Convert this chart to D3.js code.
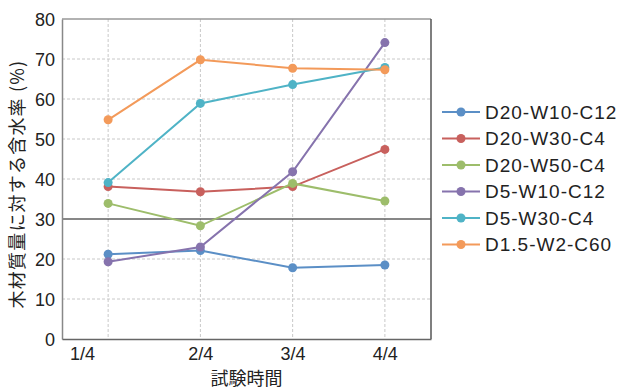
<!DOCTYPE html>
<html>
<head>
<meta charset="utf-8">
<script src="https://cdn.jsdelivr.net/npm/d3@7"></script>
<style>
  body { margin: 0; background: #fff; }
  text { font-family: "Liberation Sans", Arial, "Noto Sans CJK JP", sans-serif; fill: #222; }
</style>
</head>
<body>
<svg id="chart" width="622" height="389"></svg>
<script>
// data
const periods = ["1/4", "2/4", "3/4", "4/4"];
const seriesNames = ["D20-W10-C12", "D20-W30-C4", "D20-W50-C4", "D5-W10-C12", "D5-W30-C4", "D1.5-W2-C60"];
const colors = ["#5b8fc6", "#c8605d", "#9dbd6b", "#8673ad", "#4fb3c6", "#f39a5a"];
const d20w10c12 = [21.2, 22.1, 17.8, 18.5];
const d20w30c4 = [38.1, 36.8, 38.1, 47.4];
const d20w50c4 = [33.9, 28.3, 38.9, 34.5];
const d5w10c12 = [19.3, 23.0, 41.8, 74.1];
const d5w30c4 = [39.1, 58.9, 63.6, 67.9];
const d15w2c60 = [54.8, 69.8, 67.7, 67.3];
const yTicks = [0, 10, 20, 30, 40, 50, 60, 70, 80];

const allValues = [d20w10c12, d20w30c4, d20w50c4, d5w10c12, d5w30c4, d15w2c60];

const svg = d3.select("#chart");
const pLeft = 62, pRight = 431, pTop = 19, pBottom = 339;

const x = d3.scaleLinear().domain([0.5, periods.length + 0.5]).range([pLeft, pRight]);
const y = d3.scaleLinear().domain([0, 80]).range([pBottom, pTop]);

// grid
svg.append("g").selectAll("line").data(yTicks.filter(t => t > 0 && t < 80 && t !== 30))
    .enter().append("line")
    .attr("x1", pLeft).attr("x2", pRight)
    .attr("y1", d => y(d)).attr("y2", d => y(d))
    .attr("stroke", "#c8c8c8").attr("stroke-dasharray", "3,2").attr("stroke-width", 1);
svg.append("g").selectAll("line").data(periods)
    .enter().append("line")
    .attr("x1", (d, i) => x(i + 1)).attr("x2", (d, i) => x(i + 1))
    .attr("y1", pTop).attr("y2", pBottom)
    .attr("stroke", "#c8c8c8").attr("stroke-dasharray", "3,2").attr("stroke-width", 1);

// reference line at 30
svg.append("line")
    .attr("x1", pLeft).attr("x2", pRight)
    .attr("y1", y(30)).attr("y2", y(30))
    .attr("stroke", "#111").attr("stroke-width", 1.2);

// frame
svg.append("line").attr("x1", pLeft).attr("x2", pRight).attr("y1", pTop).attr("y2", pTop)
    .attr("stroke", "#999").attr("stroke-width", 1.5);
svg.append("line").attr("x1", pRight).attr("x2", pRight).attr("y1", pTop).attr("y2", pBottom)
    .attr("stroke", "#555").attr("stroke-width", 1.5);

// y axis
const yAxis = svg.append("g")
    .attr("transform", "translate(" + pLeft + ",0)")
    .call(d3.axisLeft(y).tickValues(yTicks).tickSize(0).tickPadding(7));
yAxis.select(".domain").attr("stroke", "#888").attr("stroke-width", 1.5);
yAxis.selectAll("text").style("font-size", "18px").attr("fill", "#222").attr("dy", "0.36em");

// x axis
const xAxis = svg.append("g")
    .attr("transform", "translate(0," + pBottom + ")")
    .call(d3.axisBottom(x).tickValues(d3.range(1, periods.length + 1))
        .tickFormat((d, i) => periods[i]).tickSize(0).tickPadding(8));
xAxis.select(".domain").attr("stroke", "#666").attr("stroke-width", 1.5);
xAxis.selectAll("text").style("font-size", "18px").attr("fill", "#222")
    .attr("dx", (d, i) => i === 0 ? -26 : 0);

// titles
svg.append("text")
    .attr("transform", "translate(24," + ((pTop + pBottom) / 2 + 5) + ") rotate(-90)")
    .attr("text-anchor", "middle")
    .style("font-size", "18px")
    .style("letter-spacing", "1.2px")
    .style("font-family", "'Noto Sans CJK JP', sans-serif")
    .text("木材質量に対する含水率 (%)");
svg.append("text")
    .attr("x", (pLeft + pRight) / 2).attr("y", 385)
    .attr("text-anchor", "middle")
    .style("font-size", "18px")
    .style("font-family", "'Noto Sans CJK JP', sans-serif")
    .text("試験時間");

// series
const line = d3.line().x((d, i) => x(i + 1)).y(d => y(d));
allValues.forEach((vals, s) => {
    const g = svg.append("g");
    g.append("path").datum(vals)
        .attr("d", line).attr("fill", "none")
        .attr("stroke", colors[s]).attr("stroke-width", 2);
    g.selectAll("circle").data(vals).enter().append("circle")
        .attr("cx", (d, i) => x(i + 1)).attr("cy", d => y(d))
        .attr("r", 4.5).attr("fill", colors[s]);
});

// legend
const legend = svg.append("g").attr("transform", "translate(442,112)");
seriesNames.forEach((name, i) => {
    const row = legend.append("g").attr("transform", "translate(0," + (i * 26.5) + ")");
    row.append("line").attr("x1", 0).attr("x2", 38).attr("y1", 0).attr("y2", 0)
        .attr("stroke", colors[i]).attr("stroke-width", 2);
    row.append("circle").attr("cx", 19).attr("cy", 0).attr("r", 4.5).attr("fill", colors[i]);
    row.append("text").attr("x", 43).attr("y", 0).attr("dy", "0.36em")
        .style("font-size", "19px").style("letter-spacing", "1px").text(name);
});
</script>
</body>
</html>
